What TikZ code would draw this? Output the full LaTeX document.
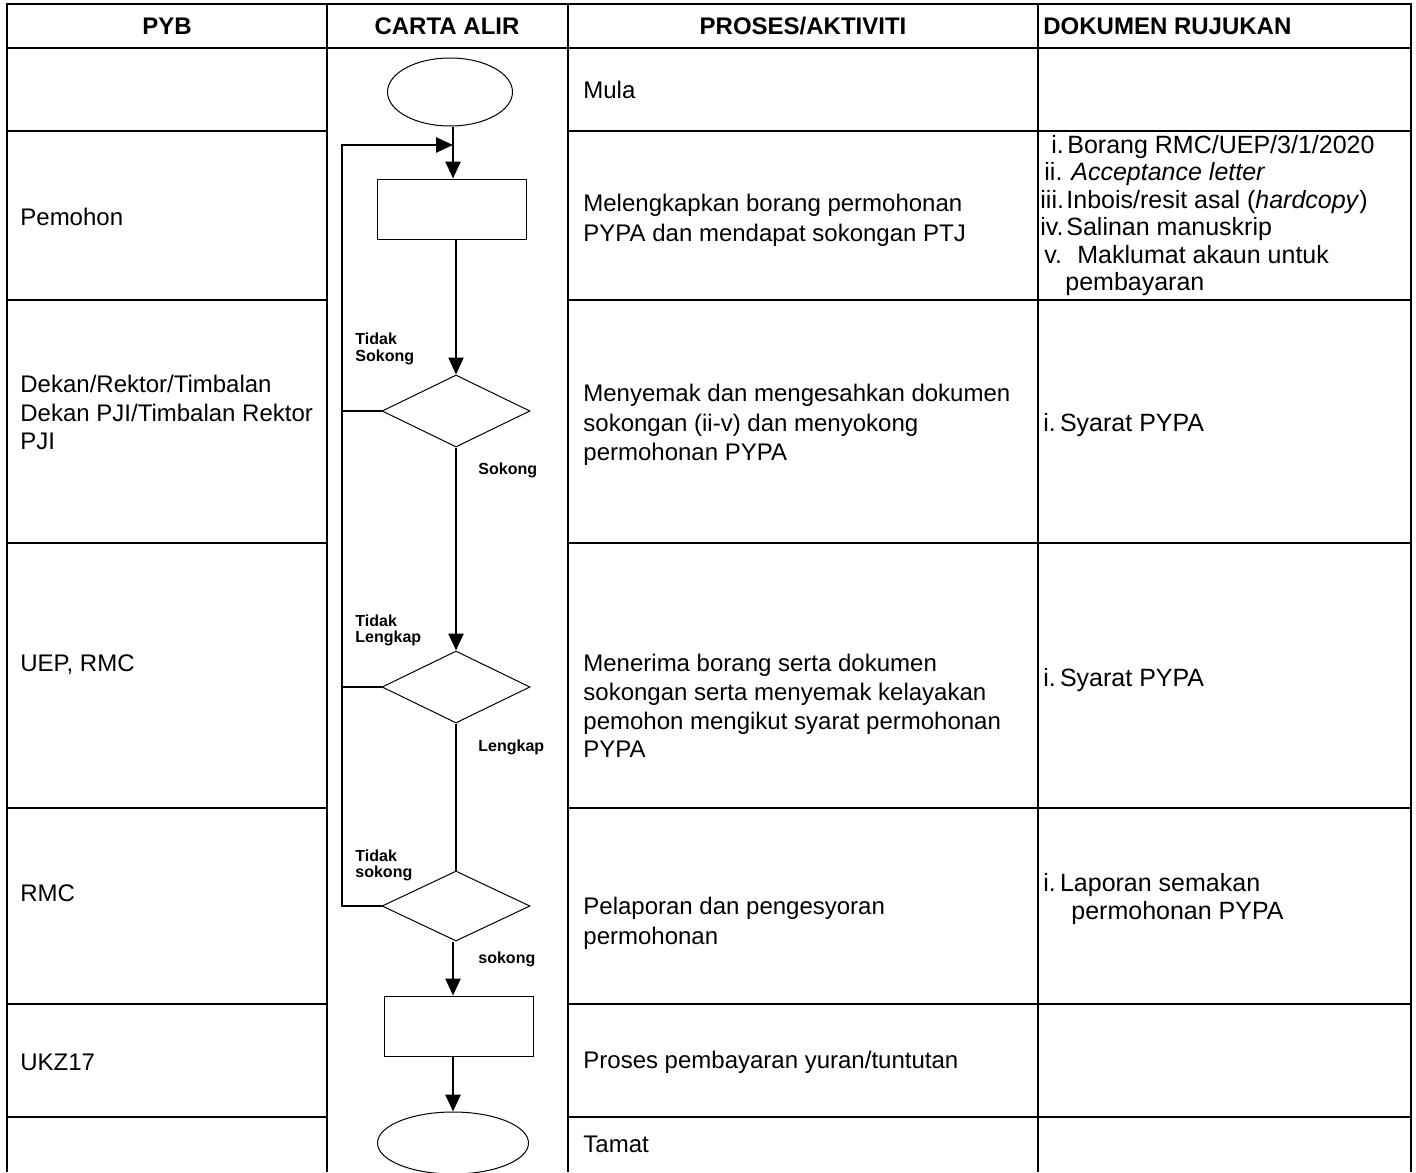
\documentclass[tikz,border=0pt]{standalone}
\usepackage{fontspec}
\setmainfont{Liberation Sans}
\usetikzlibrary{shapes.geometric, arrows.meta, positioning, calc}

\begin{document}
\begin{tikzpicture}[x=0.5pt, y=-0.5pt,
    grid/.style={line width=1pt},
    flow/.style={line width=1.3pt},
    arr/.style={flow, -{Triangle[length=8.5pt, width=7.5pt]}},
    term/.style={ellipse, draw, line width=0.5pt, minimum width=62.5pt, minimum height=34pt},
    procbox/.style={rectangle, draw, line width=0.5pt, minimum width=74.5pt, minimum height=30pt},
    decide/.style={diamond, draw, line width=0.5pt, minimum width=74pt, minimum height=36pt, inner sep=0pt},
    head/.style={inner sep=0pt, font=\bfseries\fontsize{12}{14}\selectfont},
    cell/.style={anchor=north west, inner sep=0pt, align=left, font=\fontsize{12}{14.75}\selectfont},
    doc/.style={anchor=base west, inner sep=0pt, font=\fontsize{12.5}{14}\selectfont},
    lbl/.style={anchor=north west, inner sep=0pt, align=left, font=\bfseries\fontsize{8}{8.2}\selectfont}]

    \useasboundingbox (0,0) rectangle (1416,1172);

    % Table
    \draw[grid] (7,1172) -- (7,4.5) -- (1411,4.5) -- (1411,1172);
    \draw[grid] (7,48) -- (1411,48);
    \foreach \x in {327,568,1038} \draw[grid] (\x,4.5) -- (\x,1172);
    \foreach \y in {131,300,543,808,1004,1117} {
        \draw[grid] (7,\y) -- (327,\y);
        \draw[grid] (568,\y) -- (1411,\y);
    }

    % Headers
    \node[head] (hPyb) at (167,26) {PYB};
    \node[head] (hCarta) at (447,26) {CARTA ALIR};
    \node[head] (hProses) at (803,26) {PROSES/AKTIVITI};
    \node[head, anchor=west] (hDok) at (1043,26) {DOKUMEN RUJUKAN};

    % PYB
    \node[cell] (pPemohon) at (20,208) {Pemohon};
    \node[cell, font=\fontsize{12}{14.25}\selectfont] (pDekan) at (20,375) {Dekan/Rektor/Timbalan\\Dekan PJI/Timbalan Rektor\\PJI};
    \node[cell] (pUep) at (20,654) {UEP, RMC};
    \node[cell] (pRmc) at (20,884) {RMC};
    \node[cell] (pUkz) at (20,1054) {UKZ17};

    % Proses/aktiviti
    \node[cell] (aMula) at (583,81) {Mula};
    \node[cell] (aLengkap) at (583,194) {Melengkapkan borang permohonan\\PYPA dan mendapat sokongan PTJ};
    \node[cell] (aSemak) at (583,384) {Menyemak dan mengesahkan dokumen\\sokongan (ii-v) dan menyokong\\permohonan PYPA};
    \node[cell, font=\fontsize{12}{14.35}\selectfont] (aTerima) at (583,654) {Menerima borang serta dokumen\\sokongan serta menyemak kelayakan\\pemohon mengikut syarat permohonan\\PYPA};
    \node[cell] (aLapor) at (583,897) {Pelaporan dan pengesyoran\\permohonan};
    \node[cell] (aBayar) at (583,1051) {Proses pembayaran yuran/tuntutan};
    \node[cell] (aTamat) at (583,1136) {Tamat};

    % Dokumen rujukan
    \node[doc] (dNum1) at (1051,153) {i.};
    \node[doc] (dTxt1) at (1067,153) {Borang RMC/UEP/3/1/2020};
    \node[doc] (dNum2) at (1044,180.5) {ii.};
    \node[doc] (dTxt2) at (1071,180.5) {\itshape Acceptance letter};
    \node[doc] (dNum3) at (1040,208) {iii.};
    \node[doc] (dTxt3) at (1066,208) {Inbois/resit asal (\textit{hardcopy})};
    \node[doc] (dNum4) at (1040,235.5) {iv.};
    \node[doc] (dTxt4) at (1066,235.5) {Salinan manuskrip};
    \node[doc] (dNum5) at (1044,263) {v.};
    \node[doc] (dTxt5) at (1077,263) {Maklumat akaun untuk};
    \node[doc] (dTxt6) at (1065,290.5) {pembayaran};
    \node[doc] (dSyarat1) at (1043,431) {i.\,Syarat PYPA};
    \node[doc] (dSyarat2) at (1043,686) {i.\,Syarat PYPA};
    \node[doc] (dLapor1) at (1043,891) {i.\,Laporan semakan};
    \node[doc] (dLapor2) at (1071,919) {permohonan PYPA};

    % Carta alir
    \node[term] (start) at (450,92) {};
    \node[procbox] (isi) at (452,209) {};
    \node[decide] (sokong) at (456,411) {};
    \node[decide] (semak) at (456,687) {};
    \node[decide, minimum height=35pt] (lapor) at (456,906) {};
    \node[procbox] (bayar) at (459,1026) {};
    \node[term, minimum width=75.5pt, minimum height=31pt] (tamat) at (453,1143) {};

    \coordinate (balik) at (342,145);
    \coordinate (masuk) at (453,145);

    \draw[arr] (start.south -| masuk) -- (masuk |- isi.north);
    \draw[arr] (sokong.north |- isi.south) -- (sokong.north);
    \draw[arr] (sokong.south) -- (semak.north);
    \draw[flow] (semak.south) -- (lapor.north);
    \draw[arr] (lapor.south -| tamat.north) -- (tamat.north |- bayar.north);
    \draw[arr] (tamat.north |- bayar.south) -- (tamat.north);

    % Balik semula
    \draw[flow] (sokong.west) -- (sokong.west -| balik);
    \draw[flow] (semak.west) -- (semak.west -| balik);
    \draw[arr] (lapor.west) -- (lapor.west -| balik) -- (balik) -- (masuk);

    % Label
    \node[lbl] (tSokong) at (355,333) {Tidak\\Sokong};
    \node[lbl] (ySokong) at (478,462) {Sokong};
    \node[lbl] (tLengkap) at (355,614) {Tidak\\Lengkap};
    \node[lbl] (yLengkap) at (478,739) {Lengkap};
    \node[lbl] (tLapor) at (355,849) {Tidak\\sokong};
    \node[lbl] (yLapor) at (478,951) {sokong};
\end{tikzpicture}
\end{document}
